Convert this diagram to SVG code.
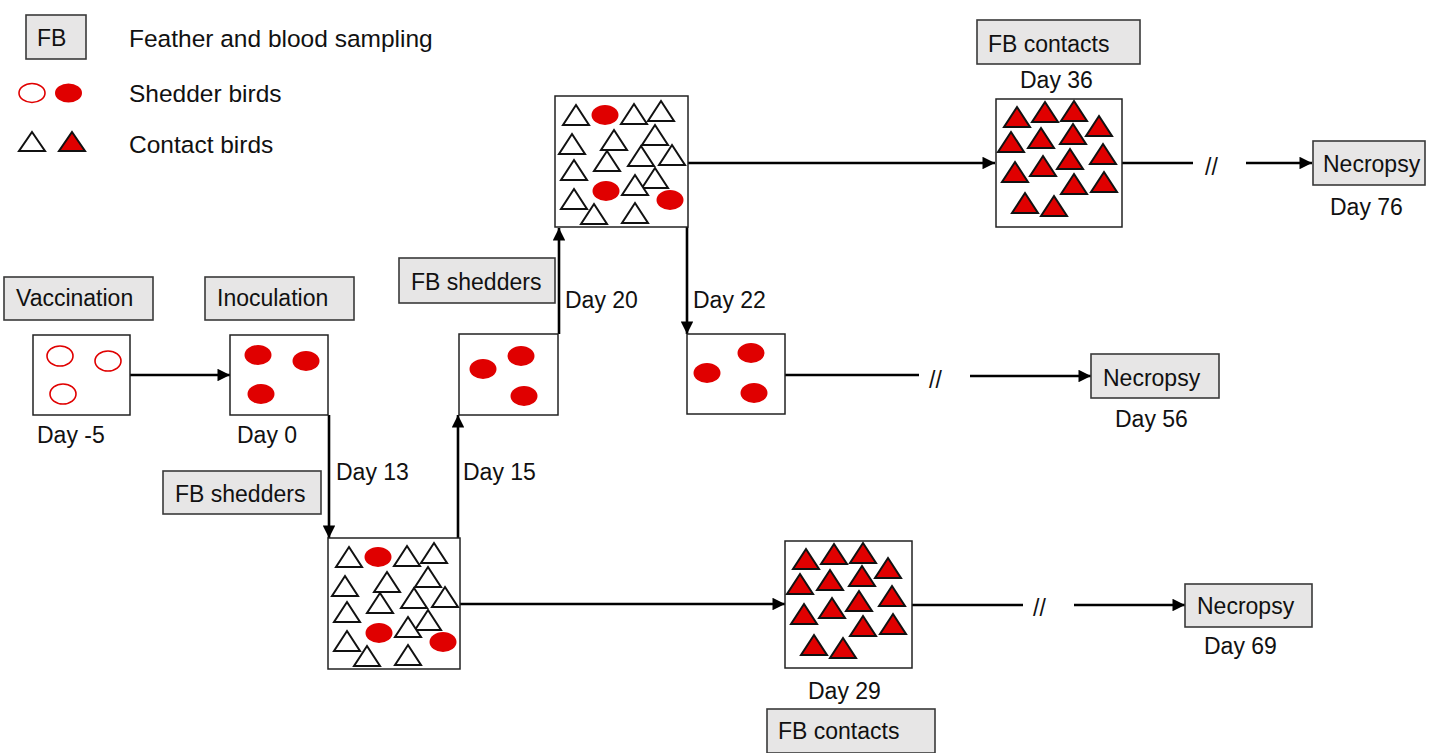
<svg xmlns="http://www.w3.org/2000/svg" xmlns:xlink="http://www.w3.org/1999/xlink" width="1440" height="753" viewBox="0 0 1440 753">
  <style>
    text { font-family: "Liberation Sans", Arial, sans-serif; font-size: 23px; fill: #111; }
    text.key { font-size: 24.5px; }
    .label { fill: #E7E6E6; stroke: #3a3a3a; stroke-width: 1.6; }
    .pen { fill: #fff; stroke: #222; stroke-width: 1.5; }
    .shed { fill: #E00000; stroke: none; }
    .vacc { fill: none; stroke: #E00000; stroke-width: 1.6; }
    .tw { fill: #fff; stroke: #111; stroke-width: 2; stroke-linejoin: miter; }
    .tr { fill: #E00000; stroke: #111; stroke-width: 2; stroke-linejoin: miter; }
    .link { fill: none; stroke: #000; stroke-width: 2.6; }
  </style>
  <defs>
    <marker id="head" viewBox="0 0 10 10" refX="10" refY="5" markerWidth="5.4" markerHeight="4.8" orient="auto" markerUnits="strokeWidth">
      <path d="M0,0 L10,5 L0,10 Z" fill="#000"/>
    </marker>
    <path id="tri" d="M0,0 L13,20 L-13,20 Z"/>
    <ellipse id="egg" cx="0" cy="0" rx="13.5" ry="10"/>
    <!-- pen with shedders and naive contacts, origin at pen top-left -->
    <g id="mixed">
      <g class="tw">
        <use href="#tri" x="21" y="9"/>
        <use href="#tri" x="79" y="8"/>
        <use href="#tri" x="106" y="5"/>
        <use href="#tri" x="17" y="38"/>
        <use href="#tri" x="59" y="34"/>
        <use href="#tri" x="100" y="29"/>
        <use href="#tri" x="52" y="55"/>
        <use href="#tri" x="86" y="50"/>
        <use href="#tri" x="117" y="49"/>
        <use href="#tri" x="19" y="64"/>
        <use href="#tri" x="100" y="72"/>
        <use href="#tri" x="80" y="79"/>
        <use href="#tri" x="19" y="93"/>
        <use href="#tri" x="39" y="108"/>
        <use href="#tri" x="80" y="107"/>
      </g>
      <g class="shed">
        <use href="#egg" x="50" y="19"/>
        <use href="#egg" x="51" y="95"/>
        <use href="#egg" x="115" y="104"/>
      </g>
    </g>
    <!-- pen with infected contacts only -->
    <g id="contacts" class="tr">
      <use href="#tri" x="21" y="8"/>
      <use href="#tri" x="49" y="3"/>
      <use href="#tri" x="78" y="2"/>
      <use href="#tri" x="103" y="17"/>
      <use href="#tri" x="15" y="33"/>
      <use href="#tri" x="45" y="29"/>
      <use href="#tri" x="77" y="25"/>
      <use href="#tri" x="107" y="45"/>
      <use href="#tri" x="74" y="50"/>
      <use href="#tri" x="47" y="57"/>
      <use href="#tri" x="19" y="63"/>
      <use href="#tri" x="78" y="75"/>
      <use href="#tri" x="108" y="73"/>
      <use href="#tri" x="29" y="94"/>
      <use href="#tri" x="58" y="97"/>
    </g>
  </defs>

  <rect width="1440" height="753" fill="#fff"/>

  <!-- legend -->
  <g id="legend">
    <rect class="label" x="26" y="15" width="60" height="44"/>
    <text x="37" y="46">FB</text>
    <text class="key" x="129" y="47">Feather and blood sampling</text>
    <ellipse class="vacc" cx="32" cy="93" rx="13" ry="9.5"/>
    <ellipse class="shed" cx="68.5" cy="93" rx="13.5" ry="9.5"/>
    <text class="key" x="129" y="102">Shedder birds</text>
    <path class="tw" d="M32,132 L45,151 L19,151 Z"/>
    <path class="tr" d="M72,132 L85,151 L59,151 Z"/>
    <text class="key" x="129" y="153">Contact birds</text>
  </g>

  <!-- connectors -->
  <g id="connectors">
    <path class="link" d="M130,375 H230" marker-end="url(#head)"/>
    <path class="link" d="M329,415 V538" marker-end="url(#head)"/>
    <path class="link" d="M458,538 V415" marker-end="url(#head)"/>
    <path class="link" d="M559,334 V228" marker-end="url(#head)"/>
    <path class="link" d="M687,227 V334" marker-end="url(#head)"/>
    <path class="link" d="M688,163 H995" marker-end="url(#head)"/>
    <path class="link" d="M460,604 H785" marker-end="url(#head)"/>
    <path class="link" d="M1122,163 H1193"/>
    <path class="link" d="M1246,163 H1312" marker-end="url(#head)"/>
    <path class="link" d="M785,375 H919"/>
    <path class="link" d="M970,376 H1091" marker-end="url(#head)"/>
    <path class="link" d="M912,605 H1023"/>
    <path class="link" d="M1074,605 H1185" marker-end="url(#head)"/>
    <text x="1205" y="175">//</text>
    <text x="929" y="388">//</text>
    <text x="1033" y="616">//</text>
    <text x="336" y="480">Day 13</text>
    <text x="463" y="480">Day 15</text>
    <text x="565" y="308">Day 20</text>
    <text x="693" y="308">Day 22</text>
  </g>

  <!-- vaccination, day -5 -->
  <g id="vaccination">
    <rect class="label" x="4" y="277" width="149" height="43"/>
    <text x="16" y="306">Vaccination</text>
    <rect class="pen" x="33" y="335" width="97" height="80"/>
    <ellipse class="vacc" cx="60" cy="356" rx="13" ry="10"/>
    <ellipse class="vacc" cx="108" cy="361" rx="13" ry="10"/>
    <ellipse class="vacc" cx="63" cy="394" rx="13" ry="10"/>
    <text x="37" y="443">Day -5</text>
  </g>

  <!-- inoculation, day 0 -->
  <g id="inoculation">
    <rect class="label" x="205" y="277" width="149" height="43"/>
    <text x="217" y="306">Inoculation</text>
    <rect class="pen" x="230" y="335" width="98" height="80"/>
    <g class="shed">
      <use href="#egg" x="258" y="355"/>
      <use href="#egg" x="306" y="361"/>
      <use href="#egg" x="261" y="394"/>
    </g>
    <text x="237" y="443">Day 0</text>
  </g>

  <!-- day 13: shedders mixed with contacts -->
  <g id="pen-day13">
    <rect class="label" x="163" y="471" width="158" height="43"/>
    <text x="175" y="502">FB shedders</text>
    <rect class="pen" x="328" y="538" width="132" height="131"/>
    <use href="#mixed" x="328" y="538"/>
  </g>

  <!-- day 15: shedders moved out -->
  <g id="pen-day15">
    <rect class="pen" x="459" y="334" width="99" height="81"/>
    <g class="shed">
      <use href="#egg" x="483" y="369"/>
      <use href="#egg" x="521" y="356"/>
      <use href="#egg" x="524" y="396"/>
    </g>
  </g>

  <!-- day 20: shedders with new contacts -->
  <g id="pen-day20">
    <rect class="label" x="399" y="258" width="156" height="45"/>
    <text x="411" y="290">FB shedders</text>
    <rect class="pen" x="555" y="96" width="133" height="131"/>
    <use href="#mixed" x="555" y="96"/>
  </g>

  <!-- day 22: shedders only -->
  <g id="pen-day22">
    <rect class="pen" x="687" y="334" width="98" height="80"/>
    <g class="shed">
      <use href="#egg" x="707" y="373"/>
      <use href="#egg" x="751" y="353"/>
      <use href="#egg" x="754" y="393"/>
    </g>
  </g>

  <!-- day 29: contacts of first round -->
  <g id="pen-day29">
    <rect class="pen" x="785" y="541" width="127" height="127"/>
    <use href="#contacts" x="785" y="541"/>
    <text x="808" y="699">Day 29</text>
    <rect class="label" x="767" y="709" width="168" height="44"/>
    <text x="778" y="739">FB contacts</text>
  </g>

  <!-- day 36: contacts of second round -->
  <g id="pen-day36">
    <rect class="label" x="977" y="20" width="163" height="44"/>
    <text x="988" y="52">FB contacts</text>
    <text x="1020" y="88">Day 36</text>
    <rect class="pen" x="996" y="99" width="126" height="128"/>
    <use href="#contacts" x="996" y="99"/>
  </g>

  <!-- necropsies -->
  <g id="necropsy-56">
    <rect class="label" x="1091" y="354" width="128" height="44"/>
    <text x="1103" y="386">Necropsy</text>
    <text x="1115" y="427">Day 56</text>
  </g>
  <g id="necropsy-69">
    <rect class="label" x="1185" y="584" width="127" height="43"/>
    <text x="1197" y="614">Necropsy</text>
    <text x="1204" y="654">Day 69</text>
  </g>
  <g id="necropsy-76">
    <rect class="label" x="1313" y="141" width="112" height="44"/>
    <text x="1323" y="172">Necropsy</text>
    <text x="1330" y="215">Day 76</text>
  </g>
</svg>
